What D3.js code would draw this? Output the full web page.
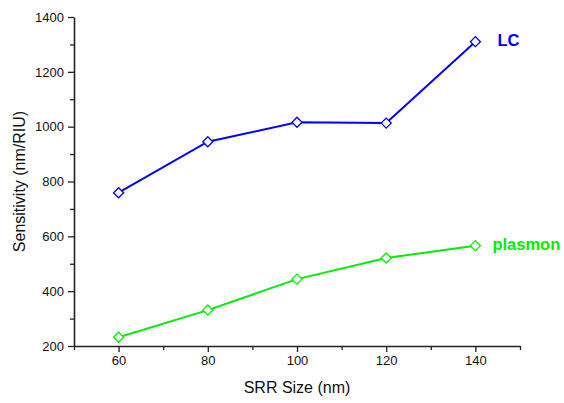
<!DOCTYPE html>
<html>
<head>
<meta charset="utf-8">
<script src="https://cdn.jsdelivr.net/npm/d3@7"></script>
<style>
  html, body { margin: 0; padding: 0; background: #fff; }
  svg { display: block; font-family: Arial, "Liberation Sans", sans-serif; }
</style>
</head>
<body>
<svg id="chart" width="564" height="403"></svg>
<script>
// SRR size (nm) on the x axis
const sizes = [60, 80, 100, 120, 140];
// Sensitivity (nm/RIU) for each resonance
const lcValues = [759, 945, 1016, 1013, 1310];
const plasmonValues = [232, 331, 444, 521, 566];
const xTicks = [60, 80, 100, 120, 140];
const yTicks = [200, 400, 600, 800, 1000, 1200, 1400];

const series = [
  { name: "LC", values: lcValues, color: "#0000ff" },
  { name: "plasmon", values: plasmonValues, color: "#00ee00" }
];

const svg = d3.select("#chart");
const margin = { left: 74, right: 44, top: 17, bottom: 57 };
const W = 564, H = 403;

const x = d3.scaleLinear().domain([50, 150]).range([margin.left, W - margin.right]);
const y = d3.scaleLinear().domain([200, 1400]).range([H - margin.bottom, margin.top]);

// Minor ticks between the labelled ones
const xMinor = d3.range(50, 151, 10).filter(v => !xTicks.includes(v));
const yMinor = d3.range(300, 1400, 200);

const axisColor = "#222";
const fmt = d3.format("d");

function styleAxis(g) {
  g.selectAll("path").attr("stroke", axisColor).attr("stroke-width", 1.6);
  g.selectAll("line").attr("stroke", axisColor).attr("stroke-width", 1.3);
  g.selectAll("text").attr("fill", "#111").style("font-size", "13px");
}

// minor ticks
svg.append("g")
  .attr("transform", `translate(0,${y(200)})`)
  .call(d3.axisBottom(x).tickValues(xMinor).tickSize(4).tickFormat(""))
  .call(styleAxis).select(".domain").remove();
svg.append("g")
  .attr("transform", `translate(${x(50)},0)`)
  .call(d3.axisLeft(y).tickValues(yMinor).tickSize(4).tickFormat(""))
  .call(styleAxis).select(".domain").remove();

// major axes
svg.append("g")
  .attr("transform", `translate(0,${y(200)})`)
  .call(d3.axisBottom(x).tickValues(xTicks).tickFormat(fmt).tickSize(6).tickSizeOuter(0).tickPadding(4))
  .call(styleAxis);
svg.append("g")
  .attr("transform", `translate(${x(50)},0)`)
  .call(d3.axisLeft(y).tickValues(yTicks).tickFormat(fmt).tickSize(6).tickSizeOuter(0).tickPadding(4))
  .call(styleAxis);

// axis titles
svg.append("text")
  .attr("x", (x(50) + x(150)) / 2)
  .attr("y", 393)
  .attr("text-anchor", "middle")
  .style("font-size", "16px")
  .attr("fill", "#111")
  .text("SRR Size (nm)");

svg.append("text")
  .attr("transform", `translate(25,${(y(200) + y(1400)) / 2}) rotate(-90)`)
  .attr("text-anchor", "middle")
  .style("font-size", "16px")
  .attr("fill", "#111")
  .text("Sensitivity (nm/RIU)");

const line = d3.line().x(d => x(d[0])).y(d => y(d[1]));
const diamond = d3.symbol().type(d3.symbolDiamond2).size(64);

series.forEach(s => {
  const pts = sizes.map((v, i) => [v, s.values[i]]);
  svg.append("path")
    .datum(pts)
    .attr("d", line)
    .attr("fill", "none")
    .attr("stroke", s.color)
    .attr("stroke-width", 2);
  svg.append("g").selectAll("path")
    .data(pts)
    .join("path")
    .attr("transform", d => `translate(${x(d[0])},${y(d[1])})`)
    .attr("d", diamond)
    .attr("fill", "#fff")
    .attr("stroke", s.color)
    .attr("stroke-width", 1.3);
  const last = pts[pts.length - 1];
  svg.append("text")
    .attr("x", x(last[0]) + (s.name === "LC" ? 22 : 17))
    .attr("y", y(last[1]) + 4)
    .attr("fill", s.color)
    .style("font-size", "16.5px")
    .style("font-weight", "bold")
    .text(s.name);
});
</script>
</body>
</html>
